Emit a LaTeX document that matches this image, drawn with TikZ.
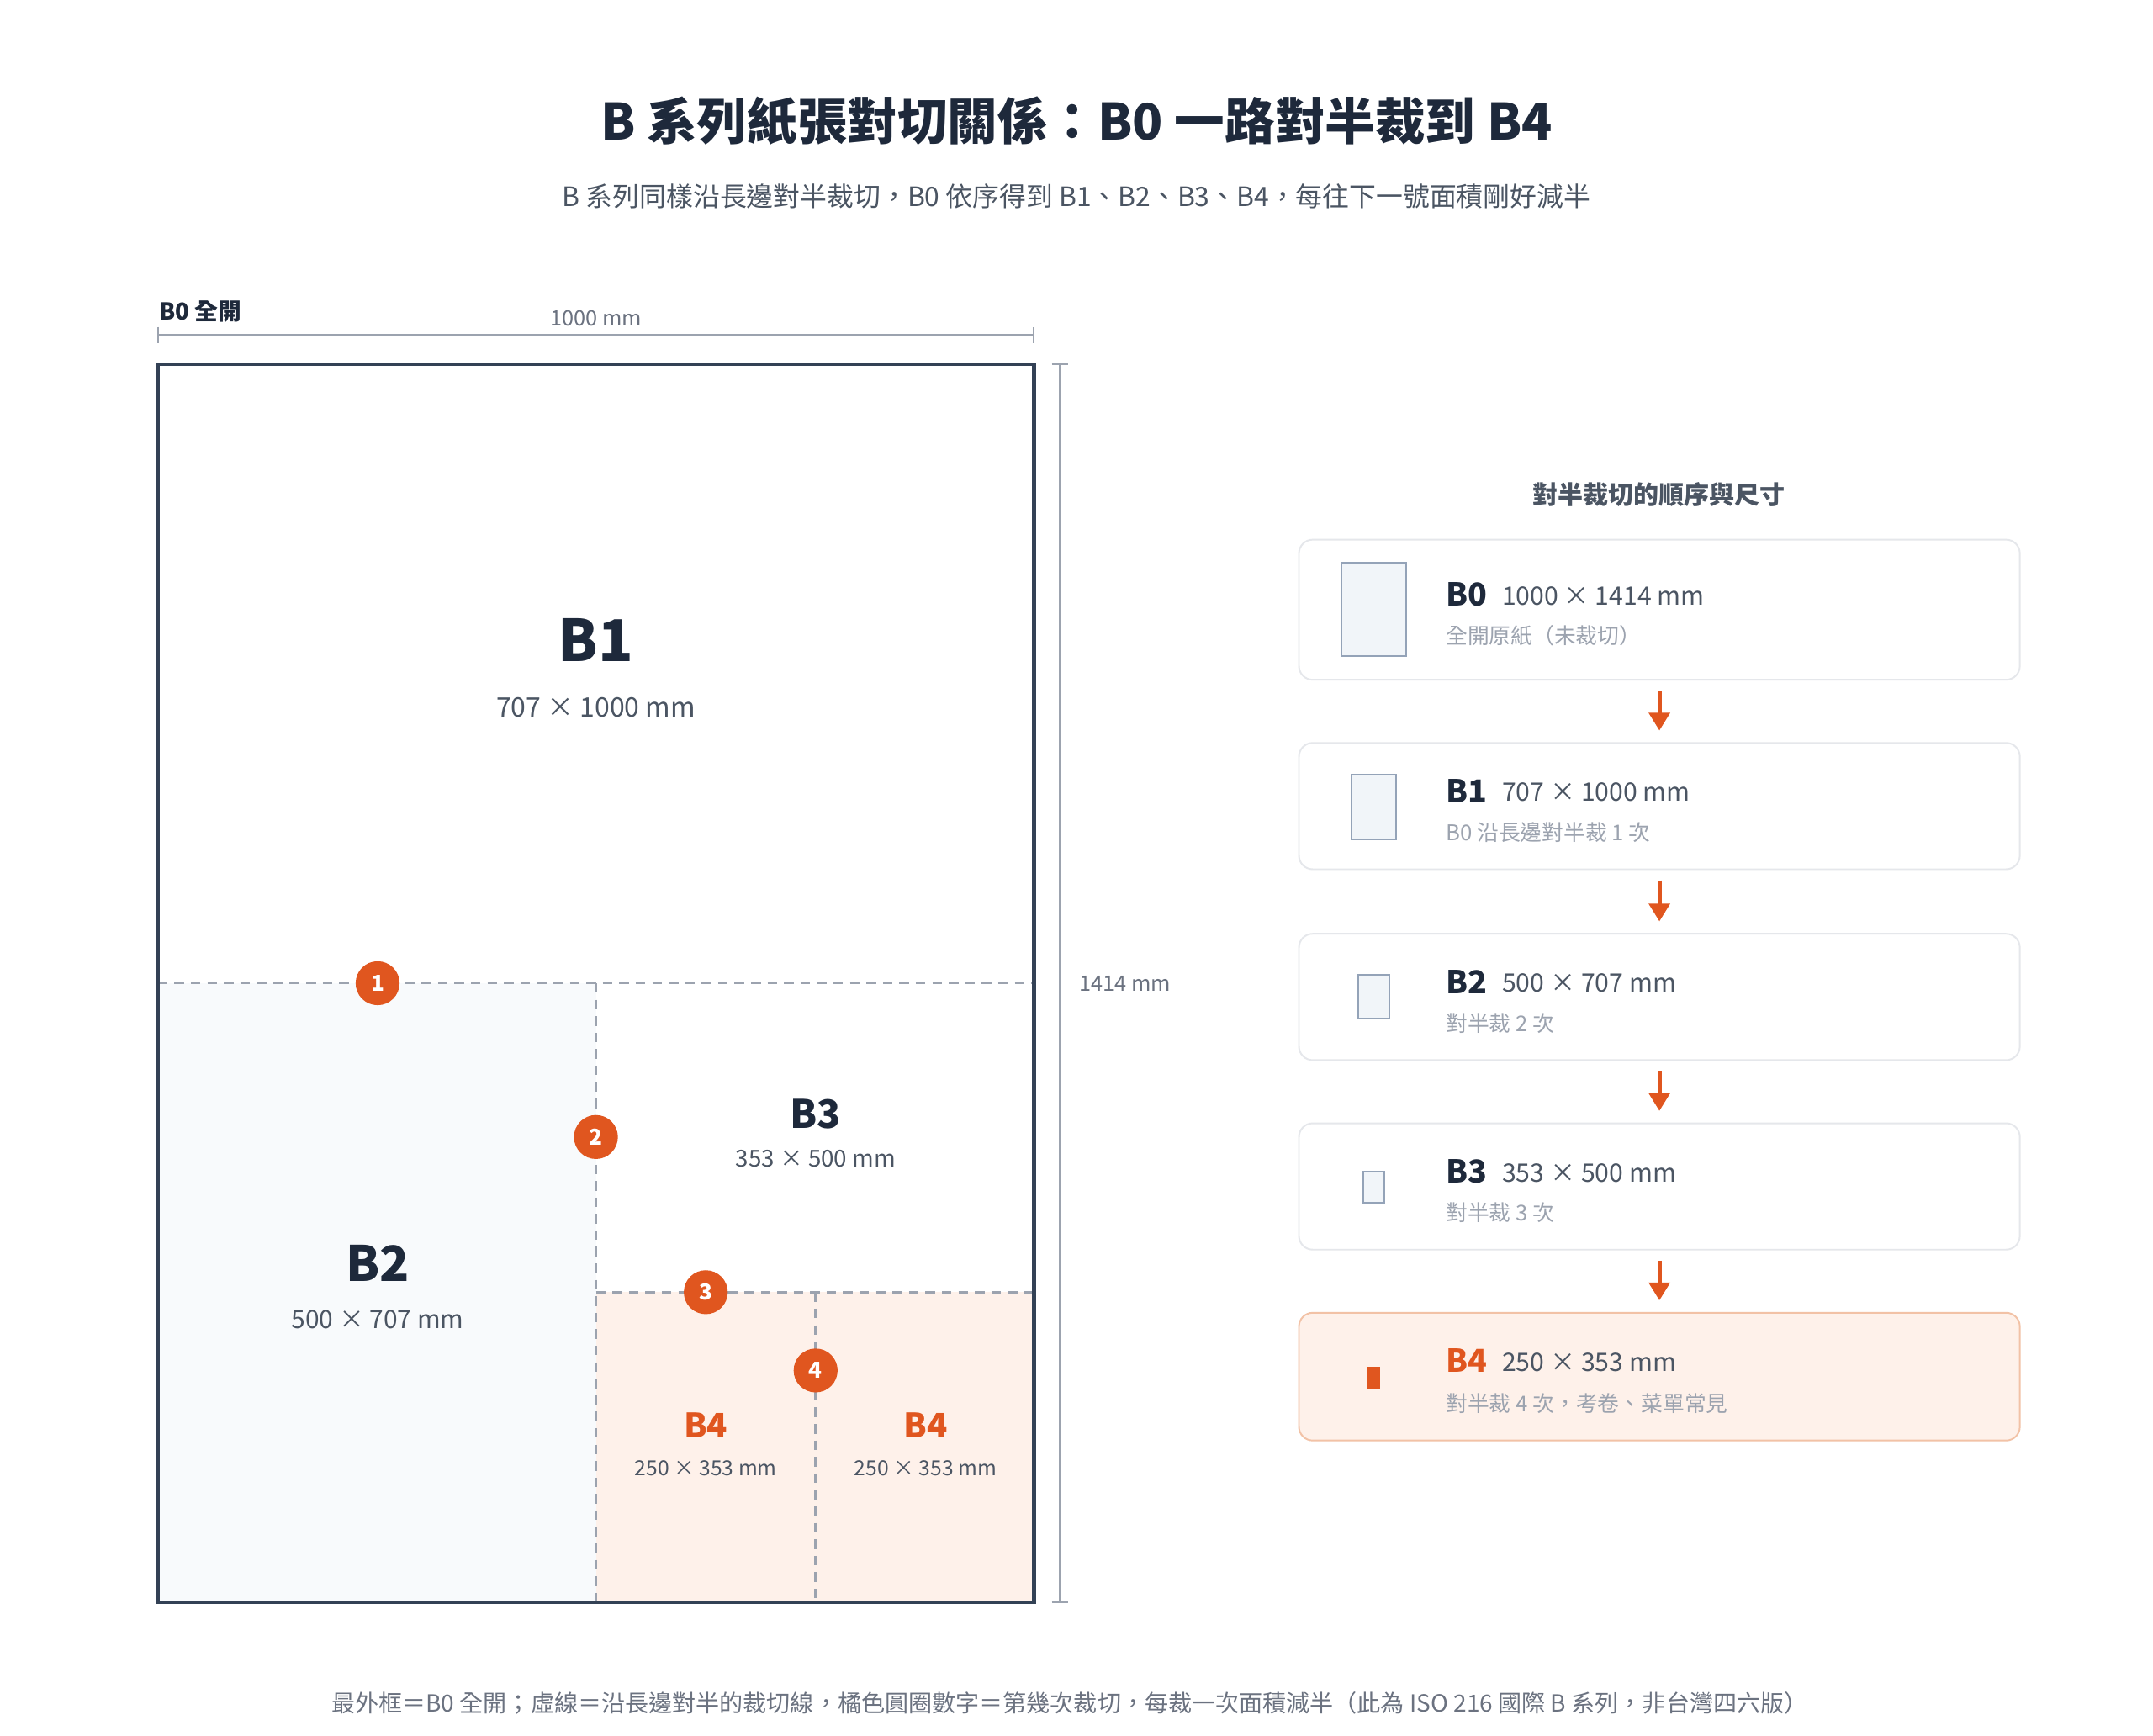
\documentclass[tikz,border=0pt]{standalone}
\usepackage{fontspec}
\setmainfont{Noto Sans CJK TC}
\usetikzlibrary{arrows.meta}
\definecolor{ink}{HTML}{1E293B}
\definecolor{framec}{HTML}{334155}
\definecolor{subc}{HTML}{4B5563}
\definecolor{mutedc}{HTML}{6B7280}
\definecolor{lightc}{HTML}{9CA3AF}
\definecolor{dashc}{HTML}{9CA3AF}
\definecolor{accent}{HTML}{E0561F}
\definecolor{btwofill}{HTML}{F8FAFC}
\definecolor{bfourfill}{HTML}{FEF1EA}
\definecolor{cardline}{HTML}{E5E7EB}
\definecolor{bfourline}{HTML}{F2C2A6}
\definecolor{iconfill}{HTML}{F1F5F9}
\definecolor{iconline}{HTML}{94A3B8}
\newcommand{\fs}[1]{\fontsize{#1}{#1}\selectfont}
\begin{document}
\begin{tikzpicture}[x=1pt,y=-1pt,
  every node/.style={inner sep=0pt, outer sep=0pt},
  cutline/.style={draw=dashc, line width=1.7pt, dash pattern=on 7pt off 5pt},
  dimline/.style={draw=lightc, line width=1.2pt},
  stepnum/.style={circle, fill=accent, text=white, minimum size=32pt, font=\fs{16}\bfseries},
  card/.style={draw=cardline, line width=1.2pt, rounded corners=10pt, fill=white, minimum width=525pt},
  hotcard/.style={card, draw=bfourline, fill=bfourfill},
  icon/.style={draw=iconline, fill=iconfill, line width=1.2pt},
  flow/.style={draw=accent, line width=3pt, -{Triangle[length=13pt,width=15pt]}},
  cardname/.style={anchor=west, font=\fs{23}\bfseries, text=ink},
  cardsize/.style={anchor=west, font=\fs{18.5}, text=subc},
  cardnote/.style={anchor=west, font=\fs{15.8}, text=lightc},
]
\useasboundingbox (0,0) rectangle (1568,1263.6);
\fill[white] (0,0) rectangle (1568,1263.6);

% titles
\node[font=\fs{36.5}\bfseries, text=ink] (title) at (784,88) {B 系列紙張對切關係：B0 一路對半裁到 B4};
\node[font=\fs{19.5}, text=subc] (subtitle) at (784,143) {B 系列同樣沿長邊對半裁切，B0 依序得到 B1、B2、B3、B4，每往下一號面積剛好減半};

% left sheet
\fill[btwofill] (115,716) rectangle (434,1167);
\fill[bfourfill] (434,941) rectangle (753,1167);
\draw[cutline] (115,716) -- (753,716);
\draw[cutline] (434,716) -- (434,1167);
\draw[cutline] (434,941) -- (753,941);
\draw[cutline] (594,941) -- (594,1167);
\draw[draw=framec, line width=2.6pt] (115,265) rectangle (753,1167);

% dimensions
\node[anchor=west, font=\fs{17}\bfseries, text=ink] (b0lab) at (116,227) {B0 全開};
\node[font=\fs{15.5}, text=mutedc] (wlab) at (434,232) {1000 mm};
\draw[dimline] (115,244) -- (753,244);
\draw[dimline] (115,238) -- (115,250);
\draw[dimline] (753,238) -- (753,250);
\draw[dimline] (772,265) -- (772,1167);
\draw[dimline] (766,265) -- (778,265);
\draw[dimline] (766,1167) -- (778,1167);
\node[anchor=west, font=\fs{15.5}, text=mutedc] (hlab) at (786,716) {1414 mm};

% region labels
\node[font=\fs{42}\bfseries, text=ink] (lb1) at (434,466) {B1};
\node[font=\fs{19.6}, text=subc] (sb1) at (434,515) {707 × 1000 mm};
\node[font=\fs{35.5}\bfseries, text=ink] (lb2) at (275,920) {B2};
\node[font=\fs{18.3}, text=subc] (sb2) at (275,961) {500 × 707 mm};
\node[font=\fs{28.5}\bfseries, text=ink] (lb3) at (594,811) {B3};
\node[font=\fs{17}, text=subc] (sb3) at (594,844) {353 × 500 mm};
\node[font=\fs{24.5}\bfseries, text=accent] (lb4a) at (514,1038) {B4};
\node[font=\fs{15.1}, text=subc] (sb4a) at (514,1069) {250 × 353 mm};
\node[font=\fs{24.5}\bfseries, text=accent] (lb4b) at (674,1038) {B4};
\node[font=\fs{15.1}, text=subc] (sb4b) at (674,1069) {250 × 353 mm};

% step circles
\node[stepnum] (s1) at (275,716) {1};
\node[stepnum] (s2) at (434,828) {2};
\node[stepnum] (s3) at (514,941) {3};
\node[stepnum] (s4) at (594,998) {4};

% right panel
\node[font=\fs{18.4}\bfseries, text=subc] (head) at (1208,360) {對半裁切的順序與尺寸};

\node[card, minimum height=102pt] (c0) at (1208.5,444) {};
\node[card, minimum height=92pt] (c1) at (1208.5,587) {};
\node[card, minimum height=92pt] (c2) at (1208.5,726) {};
\node[card, minimum height=92pt] (c3) at (1208.5,864) {};
\node[hotcard, minimum height=93pt] (c4) at (1208.5,1002.5) {};

\draw[icon] (977,410) rectangle (1024,478);
\draw[icon] (984,564) rectangle (1017,611);
\draw[icon] (989,710) rectangle (1012,742);
\draw[icon] (993,853) rectangle (1008,876);
\fill[accent] (995,995) rectangle (1005,1011);

\node[cardname] (n0) at (1053,433) {B0};
\node[cardsize] (z0) at (1094,434) {1000 × 1414 mm};
\node[cardnote] (t0) at (1053,463) {全開原紙（未裁切）};

\node[cardname] (n1) at (1053,576) {B1};
\node[cardsize] (z1) at (1094,577) {707 × 1000 mm};
\node[cardnote] (t1) at (1053,606) {B0 沿長邊對半裁 1 次};

\node[cardname] (n2) at (1053,715) {B2};
\node[cardsize] (z2) at (1094,716) {500 × 707 mm};
\node[cardnote] (t2) at (1053,745) {對半裁 2 次};

\node[cardname] (n3) at (1053,853) {B3};
\node[cardsize] (z3) at (1094,854) {353 × 500 mm};
\node[cardnote] (t3) at (1053,883) {對半裁 3 次};

\node[cardname, text=accent] (n4) at (1053,991) {B4};
\node[cardsize] (z4) at (1094,992) {250 × 353 mm};
\node[cardnote] (t4) at (1053,1022) {對半裁 4 次，考卷、菜單常見};

\draw[flow] ([yshift=-8pt]c0.south) -- ([yshift=9pt]c1.north);
\draw[flow] ([yshift=-8pt]c1.south) -- ([yshift=9pt]c2.north);
\draw[flow] ([yshift=-8pt]c2.south) -- ([yshift=9pt]c3.north);
\draw[flow] ([yshift=-8pt]c3.south) -- ([yshift=9pt]c4.north);

% footnote
\node[font=\fs{17.2}, text=mutedc] (foot) at (779,1240) {最外框＝B0 全開；虛線＝沿長邊對半的裁切線，橘色圓圈數字＝第幾次裁切，每裁一次面積減半（此為 ISO 216 國際 B 系列，非台灣四六版）};
\end{tikzpicture}
\end{document}
